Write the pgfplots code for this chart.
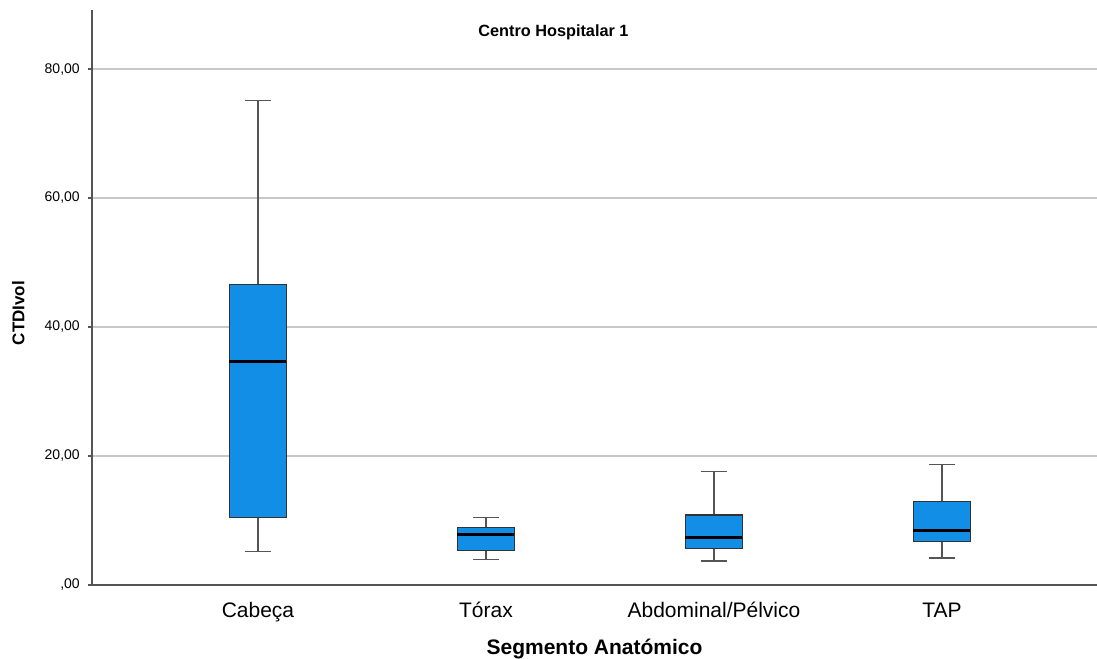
\documentclass[border=0pt]{standalone}
\usepackage{fontspec}
\setmainfont{Liberation Sans}
\usepackage{pgfplots}
\pgfplotsset{compat=1.18}
\usepgfplotslibrary{statistics}
\definecolor{boxblue}{RGB}{18,142,230}
\definecolor{gridgray}{RGB}{200,200,200}
\definecolor{axgray}{RGB}{85,85,85}
\begin{document}
\begin{tikzpicture}
\useasboundingbox (-69pt,-55.5pt) rectangle (753.75pt,438.75pt);
\begin{axis}[
  at={(0pt,0pt)}, anchor=south west,
  scale only axis, width=753.75pt, height=431.25pt,
  xmin=0.272, xmax=4.68, ymin=0, ymax=89.15,
  axis x line*=bottom, axis y line*=left,
  axis line style={axgray, line width=1.1pt, -},
  xtick={1,2,3,4}, xticklabels={Cabeça,Tórax,Abdominal/Pélvico,TAP},
  x tick style={draw=none},
  ytick={0,20,40,60,80},
  yticklabels={{,00},{20,00},{40,00},{60,00},{80,00}},
  y tick style={axgray, line width=0.8pt},
  tick align=outside, major tick length=3pt,
  ymajorgrids, grid style={gridgray, line width=1pt},
  yticklabel style={font=\fontsize{10.5pt}{12pt}\selectfont, anchor=east, inner sep=0pt, xshift=-6pt},
  xticklabel style={font=\fontsize{15.75pt}{18pt}\selectfont, anchor=base, inner sep=0pt, yshift=-21.2pt},
  xlabel={Segmento Anatómico},
  xlabel style={font=\bfseries\fontsize{15.75pt}{18pt}\selectfont, at={([yshift=-52.5pt]axis description cs:0.5,0)}, anchor=base, inner sep=0pt},
  ylabel={CTDIvol},
  ylabel style={font=\bfseries\fontsize{12.75pt}{15pt}\selectfont, at={([xshift=-55.2pt]axis description cs:0,0.473)}, anchor=center, inner sep=0pt},
  boxplot/draw direction=y,
  boxplot/every box/.style={draw=black!80, fill=boxblue, line width=0.8pt},
  boxplot/every whisker/.style={axgray, line width=1pt},
  boxplot/every median/.style={black, line width=2.2pt},
]
\addplot[boxplot prepared={draw position=1, lower whisker=5.2, lower quartile=10.5, median=34.7, upper quartile=46.6, upper whisker=75.1, box extend=0.25, whisker extend=0.115}] coordinates {};
\addplot[boxplot prepared={draw position=2, lower whisker=4.0, lower quartile=5.4, median=7.8, upper quartile=8.9, upper whisker=10.5, box extend=0.25, whisker extend=0.115}] coordinates {};
\addplot[boxplot prepared={draw position=3, lower whisker=3.7, lower quartile=5.6, median=7.3, upper quartile=10.85, upper whisker=17.6, box extend=0.25, whisker extend=0.115}] coordinates {};
\addplot[boxplot prepared={draw position=4, lower whisker=4.2, lower quartile=6.7, median=8.5, upper quartile=12.9, upper whisker=18.7, box extend=0.25, whisker extend=0.115}] coordinates {};
\node[font=\bfseries\fontsize{12.2pt}{14pt}\selectfont, anchor=base, inner sep=0pt] at (axis cs:2.296,85.0) {Centro Hospitalar 1};
\end{axis}
\end{tikzpicture}
\end{document}
